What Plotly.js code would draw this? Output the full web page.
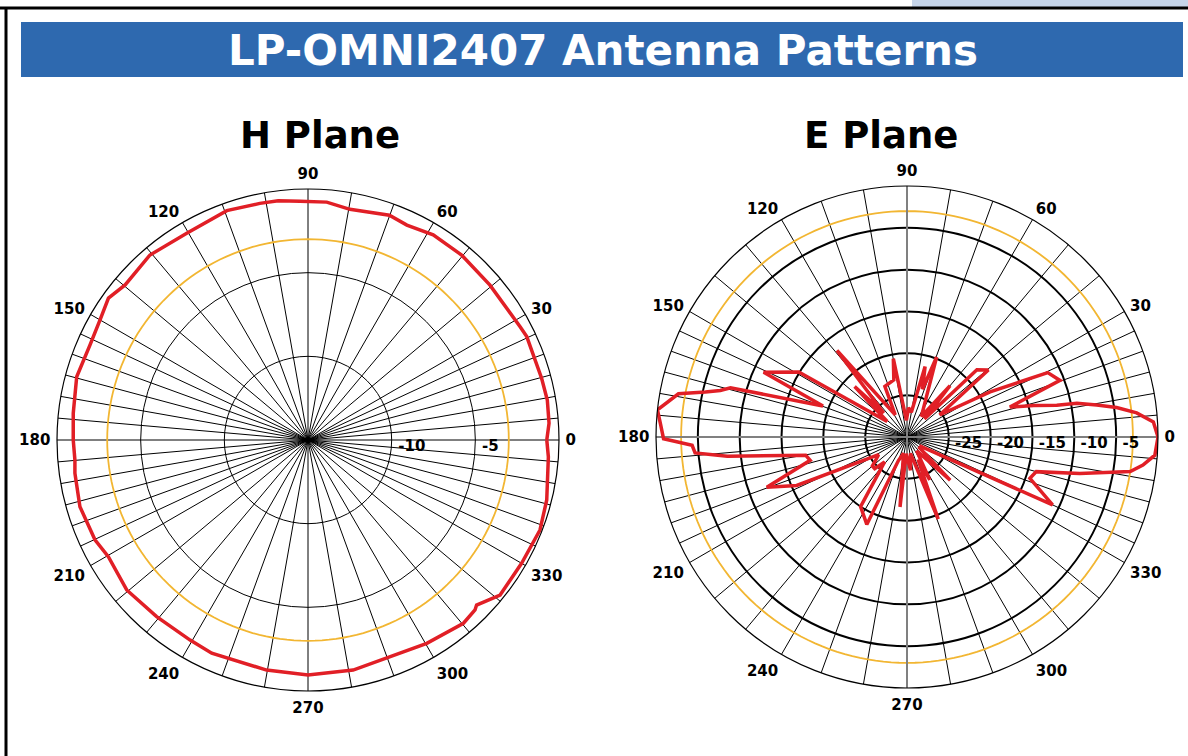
<!DOCTYPE html>
<html><head><meta charset="utf-8">
<script src="https://cdn.plot.ly/plotly-3.0.1.min.js"></script>
<style>html,body{margin:0;padding:0;background:#fff;}#chart{width:1188px;height:756px;}</style>
</head><body><div id="chart"></div>
<script>
// ---- data ----
const spokeAngles = [0,5,10,15,20,25,30,40,50,60,70,80,90,100,110,120,130,140,150,155,160,165,170,175,180,185,190,195,200,205,210,220,230,240,250,260,270,280,290,300,310,320,330,335,340,345,350,355];
const labeledAngles = [0,30,60,90,120,150,180,210,240,270,300,330];

const hTheta = [0,4,9.5,14.8,25.3,28.1,40.4,50.3,58.6,65.3,70.1,79.7,85.5,91.9,97.1,101.5,109.5,120.4,130.5,139.7,144.6,150,156.5,164.7,173.5,180,184.9,188.1,196.3,205.1,210.3,219.6,229.4,239.5,245.7,259.8,270,281.1,300.3,310.3,314.5,315.6,321.1,330,338.8,345.9,356,360];
const hGain  = [-0.73,-0.56,-0.50,-0.56,-0.54,-0.63,-0.72,-0.63,-0.64,-0.86,-0.71,-0.99,-0.74,-0.73,-0.59,-0.57,-0.46,-0.68,-0.46,-0.67,-0.37,-0.65,-0.79,-0.67,-0.88,-0.97,-1.02,-0.93,-0.80,-0.94,-1.18,-0.94,-1.10,-1.12,-1.02,-1.03,-0.96,-0.99,-0.93,-0.64,-0.76,-0.90,-0.25,-0.26,-0.13,-0.29,-0.60,-0.73];

const eTheta = [0,3.5,6,8,9.6,11.2,12,14,16.2,20.3,24.6,28.5,34,39.5,43.9,46,50,55,69.7,72,75.6,80,87,92,99.9,103,113.6,118,129,134,136,142,149,155.7,159.8,164.4,166,167.4,169.3,173.8,177,180.4,182.2,184.3,186.1,190.2,193.5,199.7,203.7,207,212,220,224.4,228,236.3,245.3,250,258,264.3,267,276,282,290.8,296,298,305,315,319,326,335,341.4,345,348.1,351.2,353.2,355.8,360];
const eGain  = [0,-0.5,-2.4,-4.7,-7,-9.3,-11.7,-14.4,-17.2,-10.5,-11.5,-18.7,-25.3,-17.4,-18.4,-27,-22,-27,-19.8,-24,-21.3,-27,-26.5,-28,-20.5,-23,-23.4,-27,-16.7,-26,-21.3,-27,-14.9,-11.2,-19.3,-8.1,-7,-5.3,-2.2,0,-0.5,-0.9,-4.3,-4.6,-8.4,-17.7,-18.1,-12.2,-15.6,-23,-26,-24.6,-24.6,-26,-20,-18.5,-27,-28,-21.6,-28,-26,-28,-19.5,-27,-24.2,-28,-22.7,-28,-28,-10.8,-14.5,-14,-8.9,-3,-1.6,-0.3,0];

const hTicks = [-10,-5];
const eTicks = [-25,-20,-15,-10,-5];
const refLevel = -3;

// ---- styling ----
const W=1188, H=756;
const FONT = 'DejaVu Sans, Verdana, sans-serif';
const RED = '#E11F26', ORANGE = '#F2B632';
const px = x => x/W, py = y => 1 - y/H;
const hLabelShift = 0.4;   // dB, nudges radial labels right of their circle
const eLabelShift = 0.75;

const ringTheta = []; for (let a=0; a<=360; a+=2) ringTheta.push(a);
const tickText = spokeAngles.map(a => labeledAngles.includes(a) ? String(a) : '');

function angAxis(){
  return {rotation:0, direction:'counterclockwise', tickmode:'array', tickvals:spokeAngles, ticktext:tickText,
    showgrid:true, gridcolor:'#000', gridwidth:1, showline:true, linecolor:'#000', linewidth:1.2,
    ticks:'outside', ticklen:3, tickcolor:'rgba(0,0,0,0)',
    tickfont:{family:FONT, size:15, color:'#000', weight:'bold'}};
}

const labelFont = {family:FONT, size:15, color:'#000', weight:'bold'};
const traces = [
  // H plane
  {type:'scatterpolar', subplot:'polar', mode:'lines', r:ringTheta.map(()=>refLevel), theta:ringTheta,
   line:{color:ORANGE, width:1.8}, hoverinfo:'skip'},
  {type:'scatterpolar', subplot:'polar', mode:'lines', r:hGain, theta:hTheta,
   line:{color:RED, width:3.5}, hoverinfo:'skip'},
  {type:'scatterpolar', subplot:'polar', mode:'text', r:hTicks.map(v=>v+hLabelShift), theta:hTicks.map(()=>0), text:hTicks.map(String),
   textposition:'bottom right', textfont:labelFont, cliponaxis:false, hoverinfo:'skip'},
  // E plane
  {type:'scatterpolar', subplot:'polar2', mode:'lines', r:ringTheta.map(()=>refLevel), theta:ringTheta,
   line:{color:ORANGE, width:1.8}, hoverinfo:'skip'},
  {type:'scatterpolar', subplot:'polar2', mode:'lines', r:[0,-30,0], theta:[0,0,180],
   line:{color:'#808080', width:2}, hoverinfo:'skip'},
  {type:'scatterpolar', subplot:'polar2', mode:'lines', r:[0,-30,0], theta:[90,90,270],
   line:{color:'#808080', width:2}, hoverinfo:'skip'},
  {type:'scatterpolar', subplot:'polar2', mode:'lines', r:eGain, theta:eTheta,
   line:{color:RED, width:3.5}, hoverinfo:'skip'},
  {type:'scatterpolar', subplot:'polar2', mode:'text', r:eTicks.map(v=>v+eLabelShift), theta:eTicks.map(()=>0), text:eTicks.map(String),
   textposition:'bottom right', textfont:labelFont, cliponaxis:false, hoverinfo:'skip'}
];

const layout = {
  width:W, height:H, margin:{l:0,r:0,t:0,b:0}, paper_bgcolor:'#fff', showlegend:false, hovermode:false,
  title:{text:'LP-OMNI2407 Antenna Patterns', x:px(603), xanchor:'center', y:py(50), yanchor:'middle',
    font:{family:FONT, size:42, color:'#fff', weight:'bold'}},
  polar:{domain:{x:[px(57),px(559)], y:[py(691),py(189)]}, bgcolor:'rgba(0,0,0,0)',
    angularaxis:angAxis(),
    radialaxis:{range:[-15,0], tickmode:'array', tickvals:hTicks, showticklabels:false, showgrid:true,
      gridcolor:'#000', gridwidth:1, showline:false, ticks:''}},
  polar2:{domain:{x:[px(656),px(1158)], y:[py(688),py(186)]}, bgcolor:'rgba(0,0,0,0)',
    angularaxis:angAxis(),
    radialaxis:{range:[-30,0], tickmode:'array', tickvals:eTicks, showticklabels:false, showgrid:true,
      gridcolor:'#000', gridwidth:2, showline:false, ticks:''}},
  shapes:[
    {type:'rect', xref:'paper', yref:'paper', x0:px(912), x1:1, y0:py(7), y1:1, fillcolor:'#C6D5EA', line:{width:0}, layer:'below'},
    {type:'line', xref:'paper', yref:'paper', x0:0, x1:1, y0:py(8), y1:py(8), line:{color:'#000', width:3}},
    {type:'line', xref:'paper', yref:'paper', x0:px(6), x1:px(6), y0:py(8), y1:0, line:{color:'#000', width:3}},
    {type:'rect', xref:'paper', yref:'paper', x0:px(21), x1:px(1183), y0:py(77), y1:py(22), fillcolor:'#2E69AF', line:{width:0}, layer:'below'}
  ],
  annotations:[
    {text:'H Plane', xref:'paper', yref:'paper', x:px(320), y:py(135), xanchor:'center', yanchor:'middle', showarrow:false,
     font:{family:FONT, size:37, color:'#000', weight:'bold'}},
    {text:'E Plane', xref:'paper', yref:'paper', x:px(881), y:py(135), xanchor:'center', yanchor:'middle', showarrow:false,
     font:{family:FONT, size:37, color:'#000', weight:'bold'}}
  ]
};

Plotly.newPlot('chart', traces, layout, {staticPlot:true, displayModeBar:false});
</script></body></html>
